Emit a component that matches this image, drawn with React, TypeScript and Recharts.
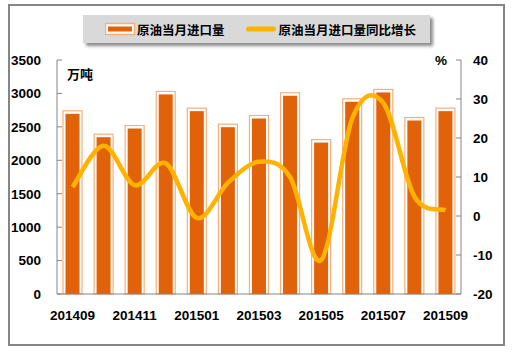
import { ComposedChart, Bar, Line, XAxis, YAxis, Legend } from 'recharts';

const months = ['201409', '201410', '201411', '201412', '201501', '201502', '201503', '201504', '201505', '201506', '201507', '201508', '201509'];
const importVolume = [2740, 2390, 2520, 3030, 2780, 2540, 2670, 3010, 2310, 2920, 3060, 2640, 2780];
const yoyGrowth = [7.4, 18.0, 7.9, 13.5, -0.5, 8.5, 13.9, 10.0, -11.3, 25.0, 29.0, 5.0, 1.5];
const leftTicks = [0, 500, 1000, 1500, 2000, 2500, 3000, 3500];
const rightTicks = [-20, -10, 0, 10, 20, 30, 40];

const data = months.map((m, i) => ({ month: m, volume: importVolume[i], growth: yoyGrowth[i] }));

const barColor = '#E2620A';
const barEdge = '#F7B07A';
const lineColor = '#FFB300';
const axisColor = '#868686';
const numFont = '"Liberation Sans", Arial, sans-serif';
const cjkFont = '"Noto Sans CJK SC", "Liberation Sans", sans-serif';

// Excel-like smoothed line (Catmull-Rom style bezier)
const smoothCurve = (context: any) => {
    let pts: number[][] = [];
    return {
        areaStart() {},
        areaEnd() {},
        lineStart() { pts = []; },
        point(x: number, y: number) { pts.push([+x, +y]); },
        lineEnd() {
            if (!pts.length) return;
            context.moveTo(pts[0][0], pts[0][1]);
            for (let i = 0; i < pts.length - 1; i++) {
                const p0 = pts[i - 1] || pts[i];
                const p1 = pts[i];
                const p2 = pts[i + 1];
                const p3 = pts[i + 2] || p2;
                context.bezierCurveTo(
                    p1[0] + (p2[0] - p0[0]) / 6, p1[1] + (p2[1] - p0[1]) / 6,
                    p2[0] - (p3[0] - p1[0]) / 6, p2[1] - (p3[1] - p1[1]) / 6,
                    p2[0], p2[1]
                );
            }
        },
    };
};

const BarShape = (props: any) => {
    const { x, y, width, height } = props;
    if (!height) return null;
    return (
        <g>
            <rect x={x} y={y} width={width} height={height} fill="#fff" stroke={barEdge} strokeWidth={1.2} />
            <rect x={x + 2.5} y={y + 3} width={width - 5} height={height - 3} fill={barColor} />
        </g>
    );
};

const LeftTick = (props: any) => {
    const { x, y, payload } = props;
    return (
        <g>
            <line x1={x + 16} x2={x + 21} y1={y} y2={y} stroke={axisColor} />
            <text x={x} y={y} dy="0.355em" textAnchor="end" fontFamily={numFont} fontWeight="bold" fontSize={13.5} fill="#000">
                {payload.value}
            </text>
        </g>
    );
};

const RightTick = (props: any) => {
    const { x, y, payload } = props;
    return (
        <g>
            <line x1={x - 17} x2={x - 12} y1={y} y2={y} stroke={axisColor} />
            <text x={x} y={y} dy="0.355em" textAnchor="start" fontFamily={numFont} fontWeight="bold" fontSize={13.5} fill="#000">
                {payload.value}
            </text>
        </g>
    );
};

const LegendBox = () => (
    <div
        style={{
            width: 347,
            height: 28,
            background: '#D9D9D9',
            boxShadow: '3px 3px 3px #8c8c8c',
            display: 'flex',
            alignItems: 'center',
            fontFamily: cjkFont,
            fontWeight: 'bold',
            fontSize: 12.5,
            color: '#000',
            boxSizing: 'border-box',
            paddingLeft: 22,
        }}
    >
        <svg width={31} height={14} style={{ marginRight: 1 }}>
            <rect x={0.5} y={1.5} width={29} height={11} fill="#fff" stroke={barEdge} strokeWidth={1.5} />
            <rect x={3} y={4.5} width={24} height={5} fill={barColor} />
        </svg>
        <span>原油当月进口量</span>
        <svg width={30} height={14} style={{ marginLeft: 21, marginRight: 3 }}>
            <line x1={2.5} x2={27.5} y1={7} y2={7} stroke={lineColor} strokeWidth={5} strokeLinecap="round" />
        </svg>
        <span>原油当月进口量同比增长</span>
    </div>
);

export default function App() {
    return (
        <div style={{ position: 'absolute', left: 0, top: 0, width: 515, height: 352, background: '#fff' }}>
            <div
                style={{
                    position: 'absolute',
                    left: 8,
                    top: 4,
                    width: 497,
                    height: 342,
                    border: `2px solid ${axisColor}`,
                    boxSizing: 'border-box',
                }}
            />
            <ComposedChart width={515} height={352} data={data} margin={{ top: 60, right: 0, bottom: 0, left: 0 }}>
                <XAxis
                    dataKey="month"
                    interval={1}
                    height={58}
                    tickSize={0}
                    tickMargin={16}
                    axisLine={{ stroke: axisColor }}
                    tick={{ fontFamily: numFont, fontWeight: 'bold', fontSize: 13.5, fill: '#000' }}
                />
                <YAxis
                    yAxisId="left"
                    width={57}
                    domain={[0, 3500]}
                    ticks={leftTicks}
                    tickSize={0}
                    tickMargin={16}
                    axisLine={{ stroke: axisColor }}
                    tick={<LeftTick />}
                />
                <YAxis
                    yAxisId="right"
                    orientation="right"
                    width={54}
                    domain={[-20, 40]}
                    ticks={rightTicks}
                    tickSize={0}
                    tickMargin={12}
                    axisLine={{ stroke: axisColor }}
                    tick={<RightTick />}
                />
                <Legend
                    layout="horizontal"
                    verticalAlign="middle"
                    align="center"
                    content={<LegendBox />}
                    wrapperStyle={{ top: 15, left: 83, width: 347, height: 28 }}
                />
                <Bar
                    yAxisId="left"
                    dataKey="volume"
                    name="原油当月进口量"
                    barSize={19}
                    shape={<BarShape />}
                    isAnimationActive={false}
                />
                <Line
                    yAxisId="right"
                    dataKey="growth"
                    name="原油当月进口量同比增长"
                    type={smoothCurve as any}
                    stroke={lineColor}
                    strokeWidth={4.5}
                    dot={false}
                    activeDot={false}
                    isAnimationActive={false}
                />
            </ComposedChart>
            <div
                style={{
                    position: 'absolute',
                    left: 67,
                    top: 66,
                    fontFamily: cjkFont,
                    fontWeight: 'bold',
                    fontSize: 13,
                    lineHeight: '16px',
                }}
            >
                万吨
            </div>
            <div
                style={{
                    position: 'absolute',
                    left: 435,
                    top: 53,
                    fontFamily: numFont,
                    fontWeight: 'bold',
                    fontSize: 13.5,
                    lineHeight: '16px',
                }}
            >
                %
            </div>
        </div>
    );
}
